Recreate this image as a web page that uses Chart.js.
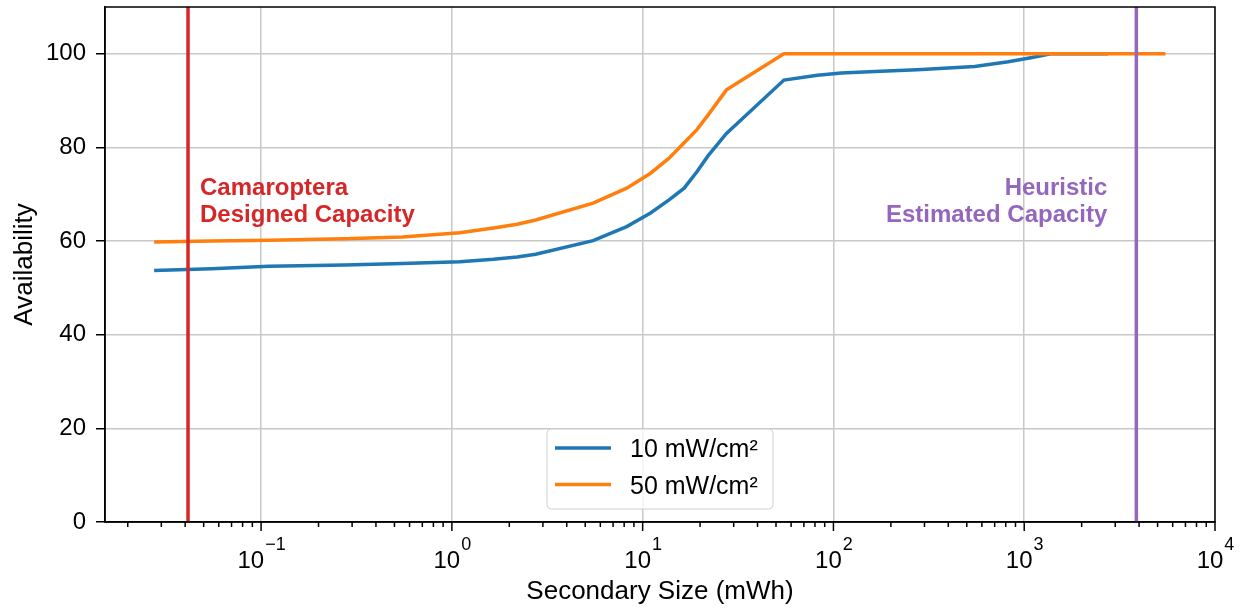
<!DOCTYPE html>
<html lang="en">
<head>
<meta charset="UTF-8">
<title>Availability vs Secondary Size</title>
<script src="https://cdn.jsdelivr.net/npm/chart.js"></script>
<style>
    body{
        margin:0;
        padding:0;
        background:#fff;
    }
    #wrap{
        width:1240px;
        height:608px;
    }
</style>
</head>
<body>
<div id="wrap"><canvas id="availChart" width="1240" height="608"></canvas></div>

<script>
/* data */
const sizes10 = [0.0275, 0.055, 0.11, 0.275, 0.55, 1.1, 1.65, 2.2, 2.75, 5.5, 8.25, 11, 13.75,
                 16.5, 19.25, 22, 27.5, 55, 82.5, 110, 165, 275, 550, 825, 1100, 1375, 2750];
const avail10 = [53.7, 54.1, 54.6, 54.9, 55.2, 55.6, 56.1, 56.6, 57.2, 60.1, 63.1, 66.0, 68.8,
                 71.3, 74.8, 78.2, 83.0, 94.4, 95.4, 95.9, 96.2, 96.6, 97.3, 98.3, 99.2, 100, 100];

const sizes50 = [0.0275, 0.055, 0.11, 0.275, 0.55, 1.1, 1.65, 2.2, 2.75, 5.5, 8.25, 11, 13.75,
                 16.5, 19.25, 22, 27.5, 55, 110, 275, 550, 1100, 2750, 5500];
const avail50 = [59.8, 60.0, 60.2, 60.5, 60.9, 61.8, 62.8, 63.6, 64.5, 68.1, 71.3, 74.5, 77.7,
                 81.0, 83.8, 86.9, 92.3, 100, 100, 100, 100, 100, 100, 100];

const seriesLabels = ['10 mW/cm²', '50 mW/cm²'];

/* reference capacities (vertical lines) */
const camaropteraCap = 0.0414;
const heuristicCap = 3870;

/* axis ticks */
const xExponents = [-1, 0, 1, 2, 3, 4];
const xMinorMult = [2, 3, 4, 5, 6, 7, 8, 9];
const yTicks = [0, 20, 40, 60, 80, 100];

const FONT = '"Liberation Sans", Arial, Helvetica, sans-serif';

// all x tick positions: majors plus 2..9 x 10^n minors inside the range
const xTicks = [];
for (let e = -2; e <= 4; e++) {
    if (xExponents.includes(e)) xTicks.push(Math.pow(10, e));
    if (e < 4) xMinorMult.forEach(m => xTicks.push(m * Math.pow(10, e)));
}
const isMajor = v => v != null && Math.abs(Math.log10(v) - Math.round(Math.log10(v))) < 1e-9;

const toPoints = (xs, ys) => xs.map((x, i) => ({x, y: ys[i]}));

// keep the plot box where we put it: no label overflow padding
const noPad = s => { s.paddingTop = 0; s.paddingBottom = 0; s.paddingLeft = 0; s.paddingRight = 0; };

/* frame, log tick labels, annotations and legend */
const extras = {
    id: 'extras',
    afterDraw(chart) {
        const {ctx, chartArea: a, scales: {x, y}} = chart;
        ctx.save();

        // x tick marks
        ctx.strokeStyle = '#000';
        ctx.lineWidth = 1.5;
        xTicks.forEach(v => {
            const px = x.getPixelForValue(v);
            if (px < a.left - 0.5 || px > a.right + 0.5) return;
            ctx.beginPath();
            ctx.moveTo(px, a.bottom);
            ctx.lineTo(px, a.bottom + (isMajor(v) ? 9 : 5));
            ctx.stroke();
        });

        // x tick labels 10^n
        ctx.fillStyle = '#000';
        ctx.textBaseline = 'alphabetic';
        ctx.textAlign = 'left';
        xExponents.forEach(e => {
            const px = x.getPixelForValue(Math.pow(10, e));
            const sup = (e < 0 ? '\u2212' : '') + Math.abs(e);
            ctx.font = '24px ' + FONT;
            const bw = ctx.measureText('10').width;
            ctx.font = '18px ' + FONT;
            const sw = ctx.measureText(sup).width;
            const x0 = px - (bw + sw) / 2;
            ctx.font = '24px ' + FONT;
            ctx.fillText('10', x0, 568);
            ctx.font = '18px ' + FONT;
            ctx.fillText(sup, x0 + bw + 1, 550);
        });

        // frame
        ctx.strokeStyle = '#000';
        ctx.lineWidth = 1.5;
        ctx.strokeRect(a.left, a.top, a.right - a.left, a.bottom - a.top);

        // annotations
        ctx.font = 'bold 24px ' + FONT;
        ctx.fillStyle = '#d62728';
        ctx.textAlign = 'left';
        const rx = x.getPixelForValue(camaropteraCap) + 12;
        ctx.fillText('Camaroptera', rx, 195);
        ctx.fillText('Designed Capacity', rx, 222);
        ctx.fillStyle = '#9467bd';
        ctx.textAlign = 'right';
        const hx = x.getPixelForValue(heuristicCap) - 29;
        ctx.fillText('Heuristic', hx, 195);
        ctx.fillText('Estimated Capacity', hx, 222);

        // legend
        const lx = 547, ly = 429, lw = 226, lh = 80;
        ctx.beginPath();
        ctx.roundRect(lx, ly, lw, lh, 4);
        ctx.fillStyle = 'rgba(255,255,255,0.8)';
        ctx.fill();
        ctx.strokeStyle = '#d0d0d0';
        ctx.lineWidth = 1;
        ctx.stroke();
        ctx.font = '25px ' + FONT;
        ctx.textAlign = 'left';
        chart.data.datasets.filter(d => !d.label.startsWith('_')).forEach((d, i) => {
            const cy = 448 + i * 36.5;
            ctx.strokeStyle = d.borderColor;
            ctx.lineWidth = 3.5;
            ctx.beginPath();
            ctx.moveTo(555, cy);
            ctx.lineTo(611, cy);
            ctx.stroke();
            ctx.fillStyle = '#000';
            ctx.fillText(d.label, 630, cy + 9);
        });

        ctx.restore();
    }
};

const ctx = document.getElementById('availChart').getContext('2d');
new Chart(ctx, {
    type: 'scatter',
    data: {
        datasets: [
            {label: seriesLabels[0], data: toPoints(sizes10, avail10), borderColor: '#1f77b4', order: 4},
            {label: seriesLabels[1], data: toPoints(sizes50, avail50), borderColor: '#ff7f0e', order: 3},
            {label: '_camaroptera', data: [{x: camaropteraCap, y: 0}, {x: camaropteraCap, y: 110}], borderColor: '#d62728', order: 2},
            {label: '_heuristic', data: [{x: heuristicCap, y: 0}, {x: heuristicCap, y: 110}], borderColor: '#9467bd', order: 1}
        ]
    },
    options: {
        responsive: false,
        animation: false,
        showLine: true,
        layout: {padding: {left: 0, top: 7, right: 25, bottom: 0}},
        elements: {
            point: {radius: 0, hoverRadius: 0},
            line: {borderWidth: 3.5, tension: 0, fill: false}
        },
        plugins: {
            legend: {display: false},
            tooltip: {enabled: false}
        },
        scales: {
            x: {
                type: 'logarithmic',
                min: 0.0152,
                max: 10000,
                afterBuildTicks: s => { s.ticks = xTicks.map(v => ({value: v})); },
                afterFit: s => { s.height = 86; noPad(s); },
                grid: {
                    color: c => isMajor(c.tick && c.tick.value) ? '#c8c8c8' : 'rgba(0,0,0,0)',
                    lineWidth: 1.5,
                    drawTicks: false
                },
                border: {color: '#000', width: 1.5},
                ticks: {display: false},
                title: {
                    display: true,
                    text: 'Secondary Size (mWh)',
                    color: '#000',
                    font: {family: FONT, size: 26},
                    padding: {top: 0, bottom: 1}
                }
            },
            y: {
                min: 0,
                max: 110,
                afterBuildTicks: s => { s.ticks = yTicks.map(v => ({value: v})); },
                afterFit: s => { s.width = 105; noPad(s); },
                grid: {
                    color: '#c8c8c8',
                    lineWidth: 1.5,
                    tickColor: '#000',
                    tickLength: 9,
                    tickWidth: 1.5
                },
                border: {color: '#000', width: 1.5},
                ticks: {
                    color: '#000',
                    padding: 10,
                    font: {family: FONT, size: 24}
                },
                title: {
                    display: true,
                    text: 'Availability',
                    color: '#000',
                    font: {family: FONT, size: 26},
                    padding: {top: 9, bottom: 0}
                }
            }
        }
    },
    plugins: [extras]
});
</script>
</body>
</html>
